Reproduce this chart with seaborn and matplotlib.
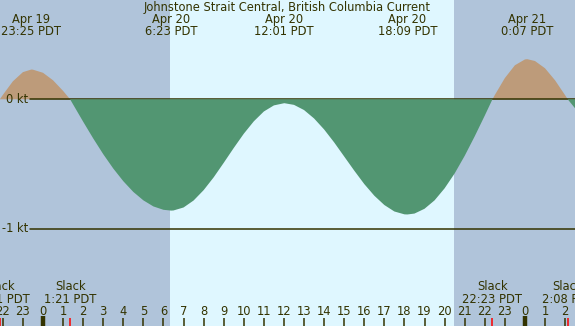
import numpy as np
import pandas as pd
import matplotlib
matplotlib.use("Agg")
import matplotlib.pyplot as plt
import seaborn as sns
from matplotlib.transforms import blended_transform_factory

# ---------------- data (hours relative to Apr 20 00:00 PDT) ----------------
title = "Johnstone Strait Central, British Columbia Current"

hours = [-2.15, -2.0, -1.5, -1.0, -0.583, -0.5, 0.0, 0.5, 1.0, 1.35,
         1.5, 2.0, 2.5, 3.0, 3.5, 4.0, 4.5, 5.0, 5.5, 6.0, 6.383,
         6.5, 7.0, 7.5, 8.0, 8.5, 9.0, 9.5, 10.0, 10.5, 11.0, 11.5, 12.017,
         12.5, 13.0, 13.5, 14.0, 14.5, 15.0, 15.5, 16.0, 16.5, 17.0, 17.5, 18.0, 18.15,
         18.5, 19.0, 19.5, 20.0, 20.5, 21.0, 21.5, 22.0, 22.383,
         22.5, 23.0, 23.5, 24.0, 24.117,
         24.5, 25.0, 25.5, 26.0, 26.133, 26.5]
speed = [0.0, 0.034, 0.139, 0.210, 0.23, 0.229, 0.205, 0.147, 0.065, 0.0,
         -0.040, -0.173, -0.302, -0.424, -0.535, -0.633, -0.716, -0.781, -0.828, -0.854, -0.86,
         -0.859, -0.836, -0.782, -0.702, -0.603, -0.491, -0.376, -0.266, -0.170, -0.094, -0.047, -0.03,
         -0.043, -0.083, -0.148, -0.233, -0.333, -0.442, -0.551, -0.655, -0.745, -0.817, -0.867, -0.889, -0.89,
         -0.883, -0.846, -0.781, -0.688, -0.573, -0.437, -0.286, -0.126, 0.0,
         0.033, 0.164, 0.263, 0.308, 0.31,
         0.296, 0.240, 0.147, 0.032, 0.0, -0.07]

peak_hours = [-0.583, 6.383, 12.017, 18.15, 24.117]
peak_dates = ["Apr 19", "Apr 20", "Apr 20", "Apr 20", "Apr 21"]
peak_times = ["23:25 PDT", "6:23 PDT", "12:01 PDT", "18:09 PDT", "0:07 PDT"]

slack_hours = [-2.15, 1.35, 22.383, 26.133]
slack_times = ["21:51 PDT", "1:21 PDT", "22:23 PDT", "2:08 PDT"]

sunrise, sunset = 6.32, 20.47

tick_hours = list(range(-2, 27))
tick_labels = [str(h % 24) for h in tick_hours]

level_values = [0, -1]
level_labels = ["0 kt", "-1 kt"]

# ---------------- style ----------------
night_c = "#b0c4da"
day_c = "#dff7ff"
flood_c = "#529672"
ebb_c = "#bd9b7a"
ink = "#333300"

sns.set_theme(style="white")
plt.rcParams["font.family"] = ["DejaVu Sans"]
FS = 8.3

W, H = 575, 326
fig = plt.figure(figsize=(W / 100, H / 100), dpi=100)
ax = fig.add_axes([0, 0, 1, 1])
xlim = (-43 / 20.08, (W - 43) / 20.08)
ylim = ((99.3 - H) / 129.4, 99.3 / 129.4)
ax.set_xlim(*xlim)
ax.set_ylim(*ylim)
ax.axis("off")

# day / night background
ax.axvspan(xlim[0], sunrise, color=night_c, lw=0, zorder=0)
ax.axvspan(sunrise, sunset, color=day_c, lw=0, zorder=0)
ax.axvspan(sunset, xlim[1], color=night_c, lw=0, zorder=0)

df = pd.DataFrame({"hour": hours, "speed": speed})
t = df["hour"].to_numpy()
v = df["speed"].to_numpy()

ax.fill_between(t, 0, v, where=v >= 0, interpolate=True, color=ebb_c, lw=0, zorder=1)
# level lines
for lv, lab in zip(level_values, level_labels):
    ax.axhline(lv, xmin=30 / W, xmax=1, color=ink, lw=1.1, zorder=2)
    ax.text(28 / W, lv, lab, transform=blended_transform_factory(ax.transAxes, ax.transData),
            ha="right", va="center", fontsize=FS, color=ink, zorder=5)
ax.fill_between(t, 0, v, where=v <= 0, interpolate=True, color=flood_c, lw=0, zorder=3)
sns.lineplot(data=df, x="hour", y="speed", ax=ax, lw=0, color=flood_c, legend=False)

bt = blended_transform_factory(ax.transData, ax.transAxes)
def fy(px):
    return 1 - px / H

# title and peak labels
ax.text(0.5, fy(7.5), title, transform=ax.transAxes, ha="center", va="center",
        fontsize=FS, color=ink, zorder=6)
for h, d, tm in zip(peak_hours, peak_dates, peak_times):
    ax.text(h, fy(19.5), d, transform=bt, ha="center", va="center", fontsize=FS, color=ink, zorder=6)
    ax.text(h, fy(31.5), tm, transform=bt, ha="center", va="center", fontsize=FS, color=ink, zorder=6)

# slack labels
for h, tm in zip(slack_hours, slack_times):
    ax.text(h, fy(287), "Slack", transform=bt, ha="center", va="center", fontsize=FS, color=ink, zorder=6)
    ax.text(h, fy(299.5), tm, transform=bt, ha="center", va="center", fontsize=FS, color=ink, zorder=6)
    ax.plot([h, h], [0, 8 / H], transform=bt, color="red", lw=1.1, zorder=6,
            solid_capstyle="butt")

# hour ticks
for h, lab in zip(tick_hours, tick_labels):
    mid = (h % 24 == 0)
    ax.plot([h, h], [0, (10 if mid else 8) / H], transform=bt, color=ink,
            lw=3.2 if mid else 1.1, zorder=6, solid_capstyle="butt")
    ax.text(h, fy(311.5), lab, transform=bt, ha="center", va="center", fontsize=FS, color=ink, zorder=6)

fig.savefig("out.png", dpi=100)
